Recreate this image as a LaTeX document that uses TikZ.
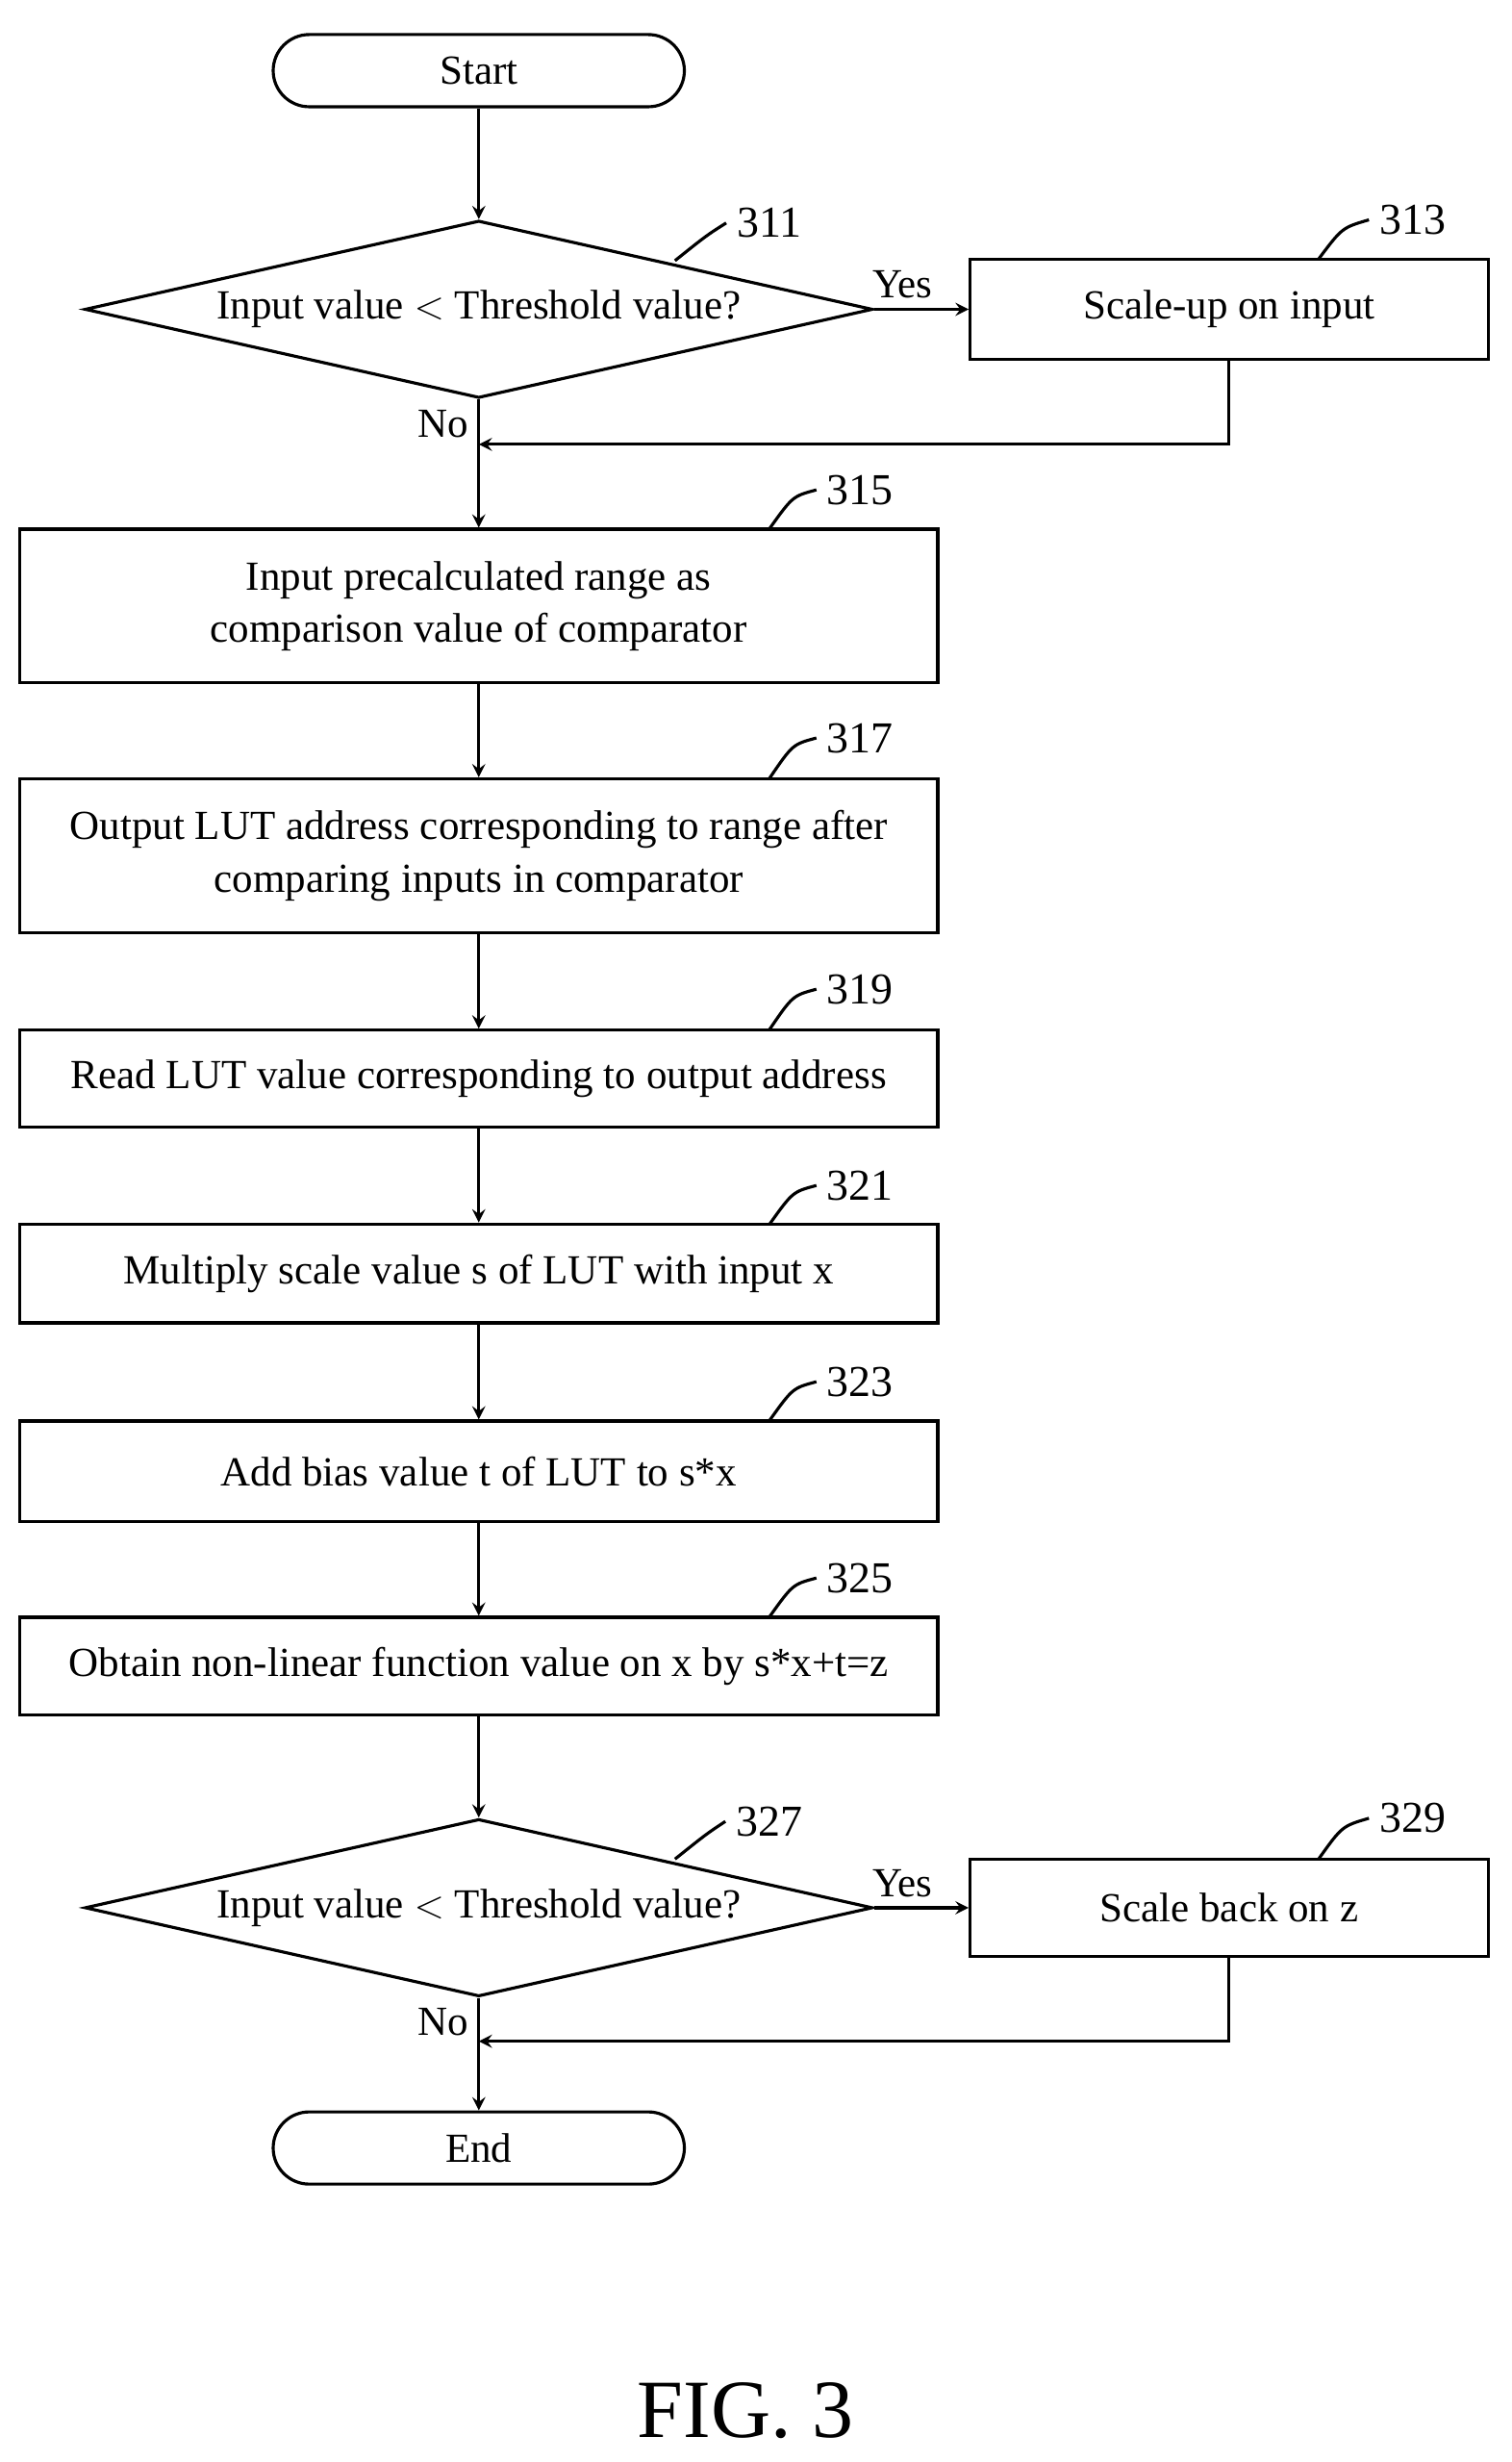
\documentclass[tikz,border=0pt]{standalone}
\usepackage{fontspec}
\setmainfont{Liberation Serif}
\usetikzlibrary{shapes.geometric,positioning}
\begin{document}
\begin{tikzpicture}[x=0.02cm,y=-0.02cm,line width=1.1pt,
  every node/.style={font=\fontsize{15}{19}\selectfont},
  term/.style={draw,rounded corners=0.46cm,minimum width=5.24cm,minimum height=0.92cm},
  proc/.style={draw,minimum width=11.7cm,align=center},
  test/.style={draw,diamond,aspect=4.44,inner sep=0pt,minimum width=10.04cm,minimum height=2.26cm},
  side/.style={draw,minimum width=6.6cm,minimum height=1.28cm},
  ref/.style={font=\fontsize{16}{20}\selectfont},
  flow/.style={->,>=stealth}]

\useasboundingbox (0,0) rectangle (963,1568);

\node[term] (start) at (305,45) {Start};
\node[test] (in_test) at (305,197) {Input value $<$ Threshold value?};
\node[side] (scale_up) at (783,197) {Scale-up on input};
\node[proc,minimum height=1.96cm] (range) at (305,386) {Input precalculated range as\\comparison value of comparator};
\node[proc,minimum height=1.96cm] (address) at (305,545) {Output LUT address corresponding to range after\\comparing inputs in comparator};
\node[proc,minimum height=1.24cm] (read) at (305,687) {Read LUT value corresponding to output address};
\node[proc,minimum height=1.26cm] (multiply) at (305,811) {Multiply scale value s of LUT with input x};
\node[proc,minimum height=1.28cm] (bias) at (305,937) {Add bias value t of LUT to s*x};
\node[proc,minimum height=1.24cm] (obtain) at (305,1061) {Obtain non-linear function value on x by s*x+t=z};
\node[test] (out_test) at (305,1215) {Input value $<$ Threshold value?};
\node[side,minimum height=1.24cm] (scale_back) at (783,1215) {Scale back on z};
\node[term] (end) at (305,1368) {End};

% reference numerals
\node[ref] (n311) at (490,142) {311};
\node[ref] (n313) at (900,140) {313};
\node[ref] (n315) at (548,312) {315};
\node[ref] (n317) at (548,470) {317};
\node[ref] (n319) at (548,630) {319};
\node[ref] (n321) at (548,755) {321};
\node[ref] (n323) at (548,880) {323};
\node[ref] (n325) at (548,1005) {325};
\node[ref] (n327) at (490,1160) {327};
\node[ref] (n329) at (900,1158) {329};

\draw (430,166) .. controls (450,150) .. (n311.west);
\draw (840,165) .. controls (855,145) .. (n313.west);
\draw (490,337) .. controls (505,316) .. (n315.west);
\draw (490,496) .. controls (505,474) .. (n317.west);
\draw (490,656) .. controls (505,634) .. (n319.west);
\draw (490,780) .. controls (505,759) .. (n321.west);
\draw (490,905) .. controls (505,884) .. (n323.west);
\draw (490,1030) .. controls (505,1009) .. (n325.west);
\draw (430,1184) .. controls (450,1168) .. (n327.west);
\draw (840,1184) .. controls (855,1163) .. (n329.west);

\coordinate (join1) at (305,283);
\coordinate (join2) at (305,1300);

\draw[flow] (start) -- (in_test);
\draw[flow] (in_test) -- node[above,pos=0.3] {Yes} (scale_up);
\draw (in_test) -- node[left,pos=0.55] {No} (join1);
\draw[flow] (scale_up) |- (join1);
\draw[flow] (join1) -- (range);
\draw[flow] (range) -- (address);
\draw[flow] (address) -- (read);
\draw[flow] (read) -- (multiply);
\draw[flow] (multiply) -- (bias);
\draw[flow] (bias) -- (obtain);
\draw[flow] (obtain) -- (out_test);
\draw[flow] (out_test) -- node[above,pos=0.3] {Yes} (scale_back);
\draw (out_test) -- node[left,pos=0.55] {No} (join2);
\draw[flow] (scale_back) |- (join2);
\draw[flow] (join2) -- (end);

\node[font=\fontsize{30}{34}\selectfont] (fig) at (475,1535) {FIG. 3};
\end{tikzpicture}
\end{document}
